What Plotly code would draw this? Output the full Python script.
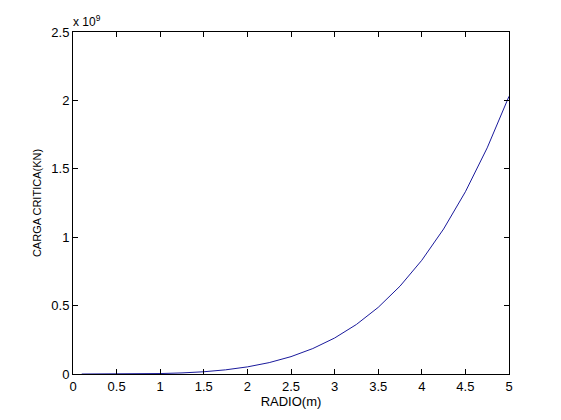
import plotly.graph_objects as go

radio = [0.1, 0.25, 0.5, 0.75, 1.0, 1.25, 1.5, 1.75, 2.0, 2.25, 2.5, 2.75,
         3.0, 3.25, 3.5, 3.75, 4.0, 4.25, 4.5, 4.75, 5.0]
carga = [0.0000003e9, 0.000013e9, 0.0002e9, 0.00103e9, 0.00325e9, 0.0079e9,
         0.0164e9, 0.0305e9, 0.052e9, 0.0832e9, 0.127e9, 0.186e9,
         0.263e9, 0.362e9, 0.487e9, 0.642e9, 0.8315e9, 1.06e9, 1.332e9,
         1.653e9, 2.03e9]

x_ticks = [0, 0.5, 1, 1.5, 2, 2.5, 3, 3.5, 4, 4.5, 5]
x_ticktext = ["0", "0.5", "1", "1.5", "2", "2.5", "3", "3.5", "4", "4.5", "5"]
y_ticks = [0, 0.5e9, 1.0e9, 1.5e9, 2.0e9, 2.5e9]
y_ticktext = ["0", "0.5", "1", "1.5", "2", "2.5"]

fig = go.Figure()
fig.add_trace(go.Scatter(x=radio, y=carga, mode="lines",
                         line=dict(color="#1a1a9c", width=1), showlegend=False))

fam = "Liberation Sans, Arial, sans-serif"
tick_font = dict(family=fam, size=13, color="black")
axis_common = dict(showline=True, linecolor="black", linewidth=1, mirror="ticks",
                   ticks="inside", ticklen=5, tickcolor="black", showgrid=False,
                   zeroline=False, tickfont=tick_font)

fig.update_layout(
    width=561, height=420,
    margin=dict(l=65, r=60, t=24, b=54),
    paper_bgcolor="white", plot_bgcolor="white",
    font=dict(family=fam, size=12, color="black"),
    xaxis=dict(range=[0, 5], tickmode="array", tickvals=x_ticks, ticktext=x_ticktext,
               title=dict(text="RADIO(m)", font=dict(family=fam, size=13, color="black"),
                          standoff=2), **axis_common),
    yaxis=dict(range=[0, 2.5e9], tickmode="array", tickvals=y_ticks, ticktext=y_ticktext,
               title=dict(text="CARGA CRITICA(KN)", font=dict(family=fam, size=11, color="black"),
                          standoff=7), **axis_common),
    annotations=[dict(text="x 10<sup>9</sup>", xref="paper", yref="paper", x=0, y=1,
                      xanchor="left", yanchor="bottom", showarrow=False,
                      font=dict(family=fam, size=12, color="black"), xshift=-2, yshift=1)],
)

fig.write_html("out.html")
